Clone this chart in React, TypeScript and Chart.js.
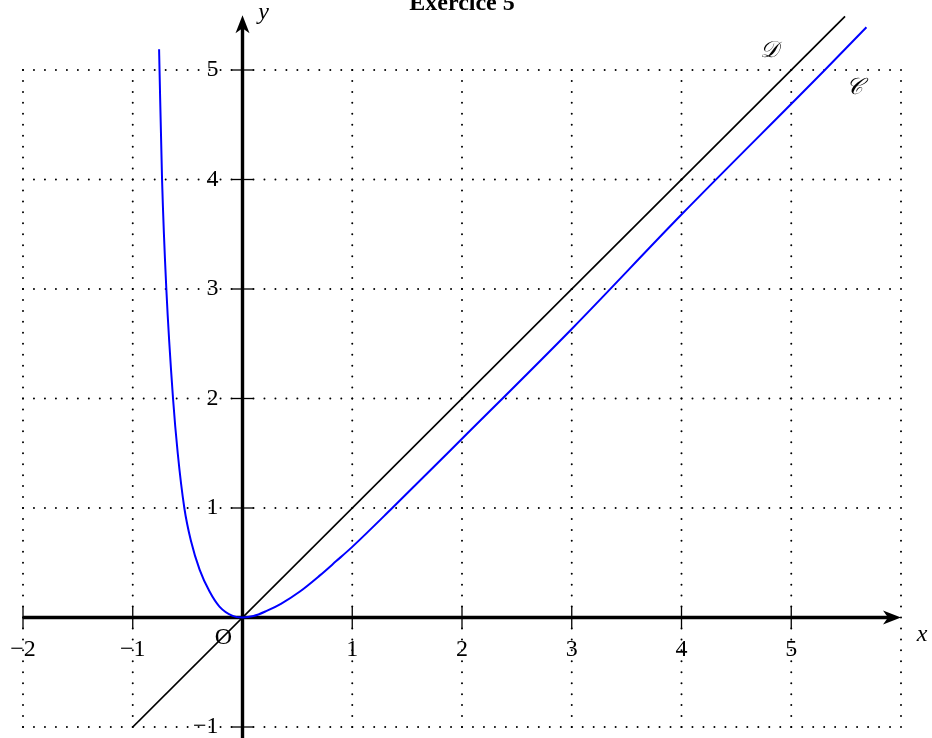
import { useEffect, useRef } from "react";
import { Chart, registerables } from "chart.js";

Chart.register(...registerables);

// Curve 𝒞 (blue), sampled points
const curveCX = [-0.76, -0.756, -0.733, -0.694, -0.633, -0.59, -0.53, -0.47, -0.39, -0.3, -0.21, -0.09, 0, 0.1, 0.22, 0.35, 0.52, 0.7, 0.854, 1, 1.36, 2, 3, 4, 5.306, 5.685];
const curveCY = [5.19, 5.0, 4.0, 3.0, 2.0, 1.5, 1.0, 0.7, 0.435, 0.237, 0.1, 0.015, 0, 0.013, 0.06, 0.125, 0.235, 0.38, 0.515, 0.645, 0.995, 1.632, 2.635, 3.68, 5.0, 5.39];

// Line 𝒟 (black)
const lineDX = [-1, 5.49];
const lineDY = [-1, 5.49];

// Axes, ticks and grid
const xMin = -2;
const xMax = 6;
const yMin = -1;
const yMax = 5.5;
const xTickValues = [-2, -1, 1, 2, 3, 4, 5];
const yTickValues = [-1, 1, 2, 3, 4, 5];
const gridXValues = [-2, -1, 0, 1, 2, 3, 4, 5, 6];
const gridYValues = [-1, 0, 1, 2, 3, 4, 5];

// Curve names
const curveLabelText = ["𝒟", "𝒞"];
const curveLabelX = [4.8, 5.58];
const curveLabelY = [5.17, 4.84];

const titleText = "Exercice 5";

const minus = (v: number) => (v < 0 ? "\u2212" + Math.abs(v) : String(v));

const SERIF = '"Liberation Serif", "DejaVu Serif", serif';

const figurePlugin = {
  id: "figure",
  beforeDatasetsDraw(chart: any) {
    const { ctx } = chart;
    const xs = chart.scales.x;
    const ys = chart.scales.y;
    const px = (v: number) => xs.getPixelForValue(v);
    const py = (v: number) => ys.getPixelForValue(v);
    const unitX = px(1) - px(0);
    const unitY = py(0) - py(1);

    ctx.save();
    // dotted grid
    ctx.strokeStyle = "#000";
    ctx.lineWidth = 2;
    ctx.lineCap = "round";
    ctx.setLineDash([0, unitX / 10]);
    for (const g of gridYValues) {
      ctx.beginPath();
      ctx.moveTo(px(gridXValues[0]), py(g));
      ctx.lineTo(px(gridXValues[gridXValues.length - 1]), py(g));
      ctx.stroke();
    }
    ctx.setLineDash([0, unitY / 10]);
    for (const g of gridXValues) {
      ctx.beginPath();
      ctx.moveTo(px(g), py(gridYValues[0]));
      ctx.lineTo(px(g), py(gridYValues[gridYValues.length - 1]));
      ctx.stroke();
    }
    ctx.setLineDash([]);
    ctx.lineCap = "butt";

    // axes
    const ox = px(0);
    const oy = py(0);
    ctx.lineWidth = 3.4;
    ctx.beginPath();
    ctx.moveTo(px(xMin), oy);
    ctx.lineTo(px(xMax) - 10, oy);
    ctx.stroke();
    ctx.beginPath();
    ctx.moveTo(ox, chart.height);
    ctx.lineTo(ox, py(yMax) + 10);
    ctx.stroke();

    // arrow heads
    ctx.fillStyle = "#000";
    const tipX = px(xMax);
    ctx.beginPath();
    ctx.moveTo(tipX, oy);
    ctx.lineTo(tipX - 18, oy - 7);
    ctx.lineTo(tipX - 13, oy);
    ctx.lineTo(tipX - 18, oy + 7);
    ctx.closePath();
    ctx.fill();
    const tipY = py(yMax);
    ctx.beginPath();
    ctx.moveTo(ox, tipY);
    ctx.lineTo(ox - 7, tipY + 18);
    ctx.lineTo(ox, tipY + 13);
    ctx.lineTo(ox + 7, tipY + 18);
    ctx.closePath();
    ctx.fill();

    // tick marks
    ctx.lineWidth = 1.3;
    for (const t of xTickValues) {
      ctx.beginPath();
      ctx.moveTo(px(t), oy - 11);
      ctx.lineTo(px(t), oy + 11);
      ctx.stroke();
    }
    for (const t of yTickValues) {
      ctx.beginPath();
      ctx.moveTo(ox - 11, py(t));
      ctx.lineTo(ox + 11, py(t));
      ctx.stroke();
    }
    ctx.restore();
  },
  afterDraw(chart: any) {
    const { ctx } = chart;
    const xs = chart.scales.x;
    const ys = chart.scales.y;
    const px = (v: number) => xs.getPixelForValue(v);
    const py = (v: number) => ys.getPixelForValue(v);
    const ox = px(0);
    const oy = py(0);

    ctx.save();
    ctx.fillStyle = "#000";
    ctx.font = `24px ${SERIF}`;
    ctx.textBaseline = "middle";
    ctx.textAlign = "center";
    for (const t of xTickValues) {
      ctx.fillText(minus(t), px(t), oy + 32);
    }
    ctx.textAlign = "right";
    for (const t of yTickValues) {
      ctx.fillText(minus(t), ox - 24, py(t));
    }
    ctx.textAlign = "center";
    ctx.fillText("O", ox - 19, oy + 20);

    ctx.font = `italic 24px ${SERIF}`;
    ctx.fillText("x", px(xMax) + 21, oy + 17);
    ctx.fillText("y", ox + 21, py(yMax) - 3);

    ctx.font = `italic 23px ${SERIF}`;
    curveLabelText.forEach((t, i) => {
      ctx.fillText(t, px(curveLabelX[i]), py(curveLabelY[i]));
    });

    ctx.font = `bold 24px ${SERIF}`;
    ctx.textBaseline = "alphabetic";
    ctx.fillText(titleText, 462, 10);
    ctx.restore();
  },
};

export default function App() {
  const canvasRef = useRef<HTMLCanvasElement | null>(null);

  useEffect(() => {
    const canvas = canvasRef.current;
    if (!canvas) return;
    const chart = new Chart(canvas, {
      type: "line",
      data: {
        datasets: [
          {
            data: curveCX.map((x, i) => ({ x, y: curveCY[i] })),
            borderColor: "#0000ff",
            borderWidth: 2,
            pointRadius: 0,
            cubicInterpolationMode: "monotone",
            fill: false,
          },
          {
            data: lineDX.map((x, i) => ({ x, y: lineDY[i] })),
            borderColor: "#000000",
            borderWidth: 1.7,
            pointRadius: 0,
            fill: false,
          },
        ],
      },
      options: {
        responsive: false,
        animation: false,
        devicePixelRatio: 1,
        events: [],
        layout: { padding: { left: 23, right: 31, top: 15.25, bottom: 11 } },
        scales: {
          x: { type: "linear", min: xMin, max: xMax, display: false },
          y: { type: "linear", min: yMin, max: yMax, display: false },
        },
        plugins: { legend: { display: false }, tooltip: { enabled: false } },
      },
      plugins: [figurePlugin],
    });
    return () => chart.destroy();
  }, []);

  return (
    <div style={{ position: "fixed", left: 0, top: 0, width: 932, height: 738, background: "#fff" }}>
      <canvas ref={canvasRef} width={932} height={738} style={{ display: "block" }} />
    </div>
  );
}
